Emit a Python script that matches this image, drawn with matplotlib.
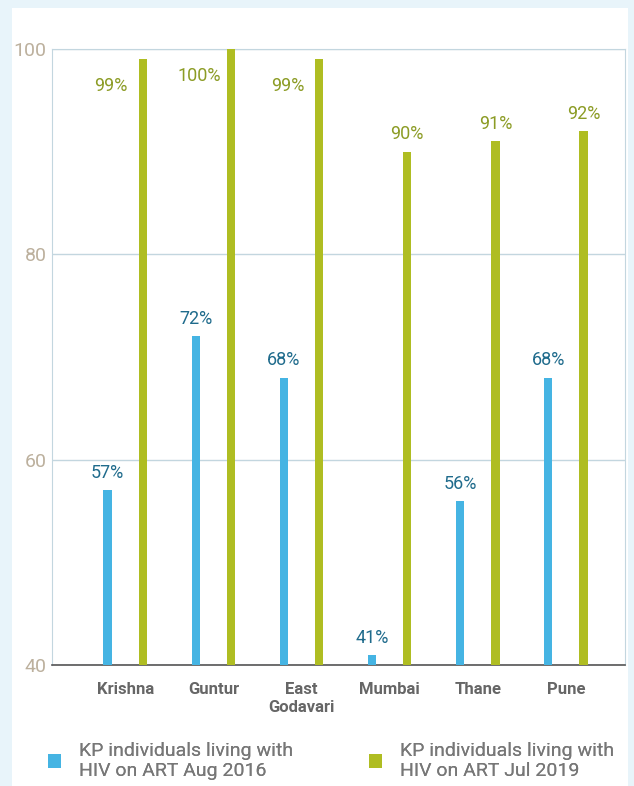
import matplotlib.pyplot as plt
import numpy as np
from matplotlib.patches import Rectangle

districts = ["Krishna", "Guntur", "East\nGodavari", "Mumbai", "Thane", "Pune"]
art_2016 = [57, 72, 68, 41, 56, 68]
art_2019 = [99, 100, 99, 90, 91, 92]
series_names = ["KP individuals living with\nHIV on ART Aug 2016",
                "KP individuals living with\nHIV on ART Jul 2019"]
y_ticks = [40, 60, 80, 100]

BLUE = "#45b4e3"
GREEN = "#afbd22"
NARROW = ["Liberation Sans Narrow", "Roboto", "DejaVu Sans"]


def main():
    fig = plt.figure(figsize=(6.34, 7.86), dpi=100)
    fig.patch.set_facecolor("#e8f4fa")
    # white panel behind the chart
    fig.patches.append(Rectangle((12 / 634, 0), 616 / 634, 778 / 786,
                                 transform=fig.transFigure, facecolor="white",
                                 edgecolor="none", zorder=-5))

    ax = fig.add_axes([52 / 634, 1 - 665 / 786, 573 / 634, 616 / 786])
    ax.set_facecolor("white")

    x = np.arange(len(districts))
    w = 0.095
    b1 = ax.bar(x - 0.2, np.array(art_2016) - 40, w, bottom=40, color=BLUE, zorder=3)
    b2 = ax.bar(x + 0.2, np.array(art_2019) - 40, w, bottom=40, color=GREEN, zorder=3)

    for xi, v in zip(x, art_2016):
        ax.text(xi - 0.2, v + 0.8, f"{v}%", ha="center", va="bottom",
                color="#1f6b8c", fontsize=13, family=NARROW)
    for xi, v in zip(x, art_2019):
        if v >= 95:
            ax.text(xi - 0.16, v - 2.6, f"{v}%", ha="center", va="center",
                    color="#8c9c25", fontsize=13, family=NARROW)
        else:
            ax.text(xi + 0.2, v + 0.8, f"{v}%", ha="center", va="bottom",
                    color="#8c9c25", fontsize=13, family=NARROW)

    ax.set_ylim(40, 100)
    ax.set_xlim(-0.83, 5.67)
    ax.set_yticks(y_ticks)
    ax.set_yticklabels([str(t) for t in y_ticks], color="#bcb09d", fontsize=14,
                       family=NARROW)
    ax.set_xticks(x)
    ax.set_xticklabels(districts, color="#666666", fontsize=12, fontweight="bold",
                       family=NARROW, linespacing=1.3)
    ax.tick_params(length=0)
    ax.tick_params(axis="y", pad=4)
    ax.tick_params(axis="x", pad=12)
    ax.yaxis.grid(True, color="#c3d6df", linewidth=1, zorder=0)
    for side in ["top", "left", "right"]:
        ax.spines[side].set_color("#c3d6df")
    ax.spines["bottom"].set_color("#555555")
    ax.spines["bottom"].set_linewidth(1.2)

    # two legend blocks, side by side
    for handle, name, x0 in [(b1, series_names[0], 30), (b2, series_names[1], 351)]:
        leg = fig.legend([handle], [name], loc="lower left",
                         bbox_to_anchor=(x0 / 634, -12 / 786), frameon=False,
                         handlelength=0.7, handleheight=0.7, handletextpad=0.9,
                         prop={"family": NARROW, "size": 14},
                         labelcolor="#777777")
        fig.add_artist(leg)

    fig.savefig("out.png", dpi=100, facecolor=fig.get_facecolor())


if __name__ == "__main__":
    main()
